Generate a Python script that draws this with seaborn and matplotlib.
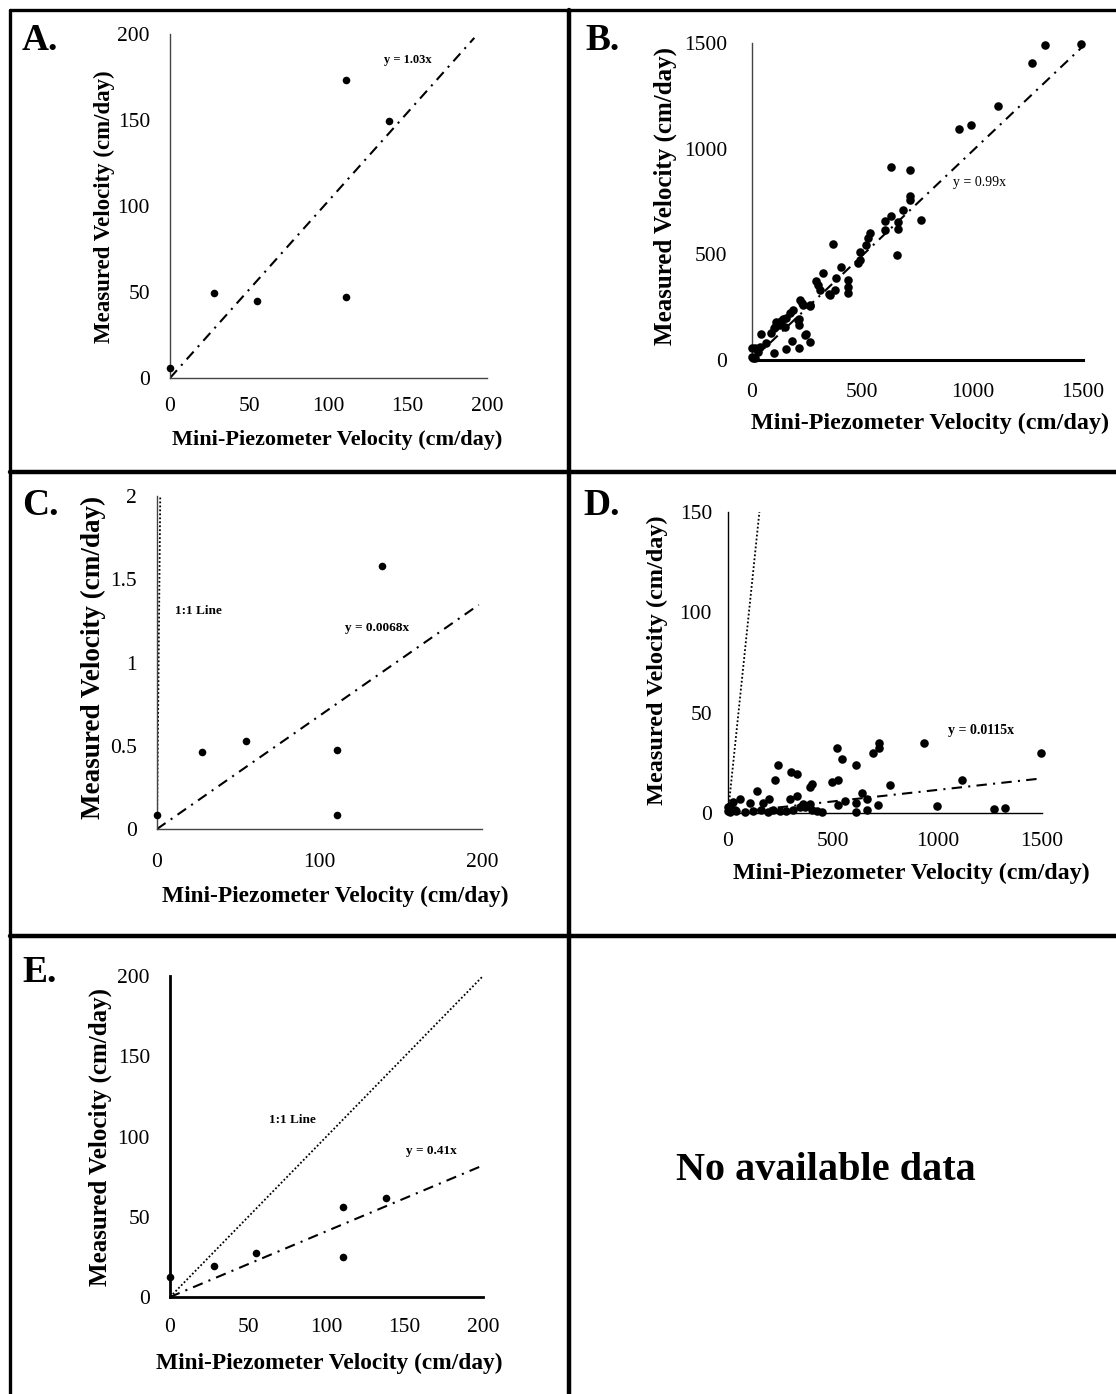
import numpy as np
import matplotlib
matplotlib.use("Agg")
import matplotlib.pyplot as plt
from matplotlib.lines import Line2D
import seaborn as sns

# ---------------- data ----------------
# Panels A, C, E share the same mini-piezometer velocities (cm/day)
mp_small = [0, 27.9, 55.0, 110.8, 110.8, 138.3]
a_measured = [5.8, 49.7, 45.0, 173.0, 47.0, 149.7]
c_measured = [0.086, 0.46, 0.526, 0.472, 0.082, 1.58]
e_measured = [12.5, 19.1, 27.2, 56.0, 25.1, 61.7]

b_mini = [1492, 1326, 1270, 1115, 937, 991, 628, 714, 714, 714, 767, 684, 662, 662,
          659, 628, 601, 601, 533, 526, 515, 488, 491, 480, 405, 367, 382, 435, 435,
          435, 352, 349, 375, 321, 289, 299, 307, 264, 261, 216, 228, 231, 186, 171,
          156, 141, 133, 110, 103, 125, 148, 98, 88, 208, 213, 213, 243, 239, 265,
          183, 156, 213, 101, 42, 65, 35, 12, 0, 0, 5, 27, 12]
b_measured = [1497, 1489, 1405, 1201, 1095, 1111, 914, 898, 775, 759, 662, 709, 654, 618,
              499, 682, 658, 614, 602, 575, 543, 512, 473, 460, 438, 548, 386, 378, 347,
              315, 307, 312, 331, 413, 375, 354, 331, 260, 255, 284, 268, 260, 236, 221,
              197, 192, 186, 181, 158, 165, 157, 150, 126, 189, 192, 165, 123, 118, 86,
              91, 52, 58, 32, 123, 79, 63, 55, 55, 16, 8, 39, 8]

d_mini = [1495, 938, 1120, 997, 1272, 1324, 721, 721, 691, 519, 546, 610, 774, 495, 527,
          640, 662, 718, 610, 610, 662, 527, 558, 239, 223, 303, 332, 391, 399, 139, 295,
          332, 195, 168, 104, 56, 24, 8, 8, 40, 80, 120, 160, 191, 215, 247, 279, 311,
          343, 367, 399, 423, 447, 32, 359, 391, 0, 0]
d_measured = [30.1, 35.1, 16.6, 3.3, 2.0, 2.7, 35.1, 32.6, 30.1, 32.3, 26.8, 24.1, 13.8,
              15.5, 16.6, 10.0, 7.2, 4.0, 5.0, 0.5, 1.3, 4.2, 5.8, 24.1, 16.6, 20.5, 19.3,
              13.0, 14.3, 11.0, 7.2, 8.3, 6.8, 5.0, 5.0, 6.8, 5.5, 3.3, 0.5, 0.8, 0.5, 0.8,
              1.3, 0.5, 1.3, 1.0, 1.0, 1.3, 3.0, 3.0, 1.5, 1.0, 0.5, 1.7, 4.3, 4.7, 1.0, 3.0]

# fitted slopes (trend line through origin)
slope_a, slope_b, slope_c, slope_d, slope_e = 1.03, 0.99, 0.0068, 0.0115, 0.41

# ---------------- figure ----------------
sns.set_style("white")
plt.rcParams["font.family"] = ["Liberation Serif", "DejaVu Serif"]
plt.rcParams["text.color"] = "black"
plt.rcParams["axes.labelcolor"] = "black"
plt.rcParams["xtick.color"] = "black"
plt.rcParams["ytick.color"] = "black"

W, H = 1116, 1394
fig = plt.figure(figsize=(W / 100, H / 100), dpi=100)


def axes_px(left, right, top, bottom):
    return fig.add_axes([left / W, 1 - bottom / H, (right - left) / W, (bottom - top) / H])


def px_to_axes(px, py, box):
    left, right, top, bottom = box
    return (px - left) / (right - left), (bottom - py) / (bottom - top)


def style_axes(ax, box, xlim, ylim, xticks, yticks, ylabels=None, tick_fs=15.5,
               xpad=14, ypad=14, spine_c="#444444", spine_lw=1.0, bottom_lw=None,
               xlab_xy=None, ylab_xy=None, xlab_fs=16, ylab_fs=17):
    ax.set_xlim(*xlim)
    ax.set_ylim(*ylim)
    ax.set_xticks(xticks)
    ax.set_yticks(yticks)
    if ylabels is not None:
        ax.set_yticklabels(ylabels)
    ax.tick_params(length=0, labelsize=tick_fs, labelcolor="black")
    ax.tick_params(axis="x", pad=xpad)
    ax.tick_params(axis="y", pad=ypad)
    for s in ["top", "right"]:
        ax.spines[s].set_visible(False)
    ax.spines["left"].set_color(spine_c)
    ax.spines["left"].set_linewidth(spine_lw)
    ax.spines["bottom"].set_color(spine_c if bottom_lw is None else "black")
    ax.spines["bottom"].set_linewidth(spine_lw if bottom_lw is None else bottom_lw)
    ax.grid(False)
    ax.set_xlabel("Mini-Piezometer Velocity (cm/day)", fontsize=xlab_fs,
                  fontweight="bold", color="black")
    ax.set_ylabel("Measured Velocity (cm/day)", fontsize=ylab_fs,
                  fontweight="bold", color="black")
    ax.xaxis.set_label_coords(*px_to_axes(*xlab_xy, box))
    ax.yaxis.set_label_coords(*px_to_axes(*ylab_xy, box))
    ax.xaxis.label.set_va("center")
    ax.yaxis.label.set_va("center")


def scatter(ax, x, y, s):
    sns.scatterplot(x=x, y=y, ax=ax, color="black", s=s, linewidth=0,
                    clip_on=False, legend=False, zorder=3)


fit_style = dict(color="black", lw=1.5, linestyle=(0, (5, 3, 1, 3)))
one_style = dict(color="black", lw=1.3, linestyle=(0, (1, 1.2)))

# ---- A ----
box_a = (170, 487, 34, 378)
ax = axes_px(*box_a)
scatter(ax, mp_small, a_measured, 30)
xa = np.array([0, 192])
ax.plot(xa, slope_a * xa, **fit_style)
ax.text(135, 185, "y = 1.03x", fontsize=9, fontweight="bold", va="center")
style_axes(ax, box_a, (0, 200), (0, 200), [0, 50, 100, 150, 200], [0, 50, 100, 150, 200],
           xpad=14, ypad=14.4, xlab_xy=(337, 440), ylab_xy=(104, 207),
           xlab_fs=16, ylab_fs=16.5)

# ---- B ----
box_b = (752, 1083, 43, 360)
ax = axes_px(*box_b)
scatter(ax, b_mini, b_measured, 38)
xb = np.array([0, 1500])
ax.plot(xb, slope_b * xb, **fit_style)
ax.text(911, 838, "y = 0.99x", fontsize=10, va="center")
style_axes(ax, box_b, (0, 1500), (0, 1500), [0, 500, 1000, 1500], [0, 500, 1000, 1500],
           xpad=16.5, ypad=18, bottom_lw=2.2, xlab_xy=(930, 423), ylab_xy=(665, 196),
           xlab_fs=17.4, ylab_fs=18)

# ---- C ----
box_c = (157, 482, 496, 829)
ax = axes_px(*box_c)
xc1 = np.array([0, 2.0])
ax.plot(xc1, xc1, **one_style)
scatter(ax, mp_small, c_measured, 30)
xc = np.array([0, 198])
ax.plot(xc, slope_c * xc, **fit_style)
ax.text(11.3, 1.31, "1:1 Line", fontsize=9.5, fontweight="bold", va="center")
ax.text(115.7, 1.21, "y = 0.0068x", fontsize=9.5, fontweight="bold", va="center")
style_axes(ax, box_c, (0, 200), (0, 2), [0, 100, 200], [0, 0.5, 1, 1.5, 2],
           ylabels=["0", "0.5", "1", "1.5", "2"], xpad=17, ypad=14.4,
           xlab_xy=(335, 896), ylab_xy=(93, 657), xlab_fs=16.8, ylab_fs=19.5)

# ---- D ----
box_d = (728, 1042, 512, 813)
ax = axes_px(*box_d)
xd1 = np.array([0, 150])
ax.plot(xd1, xd1, **one_style)
scatter(ax, d_mini, d_measured, 38)
xd = np.array([0, 1500])
ax.plot(xd, slope_d * xd, **fit_style)
ax.text(1053, 41, "y = 0.0115x", fontsize=10, fontweight="bold", va="center")
style_axes(ax, box_d, (0, 1500), (0, 150), [0, 500, 1000, 1500], [0, 50, 100, 150],
           xpad=14, ypad=11.5, spine_c="black", xlab_xy=(911, 873), ylab_xy=(657, 660),
           xlab_fs=17.3, ylab_fs=17.5)

# ---- E ----
box_e = (170, 483, 976, 1297)
ax = axes_px(*box_e)
xe1 = np.array([0, 200])
ax.plot(xe1, xe1, **one_style)
scatter(ax, mp_small, e_measured, 30)
xe = np.array([0, 200])
ax.plot(xe, slope_e * xe, **fit_style)
ax.text(63.4, 110, "1:1 Line", fontsize=9.5, fontweight="bold", va="center")
ax.text(150.6, 91, "y = 0.41x", fontsize=9.5, fontweight="bold", va="center")
style_axes(ax, box_e, (0, 200), (0, 200), [0, 50, 100, 150, 200], [0, 50, 100, 150, 200],
           xpad=15, ypad=14.4, spine_c="black", spine_lw=2.0,
           xlab_xy=(329, 1363), ylab_xy=(100, 1137), xlab_fs=16.8, ylab_fs=18)

# ---- empty panel F ----
fig.text(826 / W, 1 - 1170 / H, "No available data", fontsize=29, fontweight="bold",
         ha="center", va="center", color="black")

# ---- panel letters ----
for letter, (lx, ly) in {"A.": (22, 50), "B.": (585, 50), "C.": (22, 515),
                         "D.": (583, 515), "E.": (22, 982)}.items():
    fig.text(lx / W, 1 - ly / H, letter, fontsize=27, fontweight="bold",
             ha="left", va="baseline", color="black")

# ---- panel frame ----
def frame(x0, y0, x1, y1, lw):
    fig.add_artist(Line2D([x0 / W, x1 / W], [1 - y0 / H, 1 - y1 / H],
                          transform=fig.transFigure, color="black", lw=lw))

frame(9.5, 9.5, W, 9.5, 2.4)
frame(9.5, 9.5, 9.5, H, 2.4)
frame(569, 9.5, 569, H, 3.2)
frame(9.5, 472, W, 472, 3.2)
frame(9.5, 936, W, 936, 3.2)

fig.savefig("out.png", dpi=100)
